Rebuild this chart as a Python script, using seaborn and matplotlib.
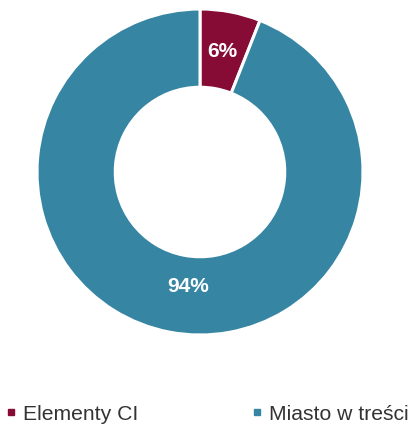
import matplotlib
matplotlib.use("Agg")
import matplotlib.pyplot as plt
from matplotlib.lines import Line2D
import seaborn as sns

categories = ["Elementy CI", "Miasto w treści"]
shares = [6, 94]
colors = ["#870C35", "#3585A3"]

sns.set_theme(style="white")
plt.rcParams["font.family"] = ["Liberation Sans", "DejaVu Sans"]

fig = plt.figure(figsize=(4.12, 4.24), dpi=100)
W, H = 412, 424
cx, cy, r = 200, 172, 163
ax = fig.add_axes([(cx - r) / W, 1 - (cy + r) / H, 2 * r / W, 2 * r / H])

wedges, texts, autotexts = ax.pie(
    shares,
    colors=colors,
    startangle=90,
    counterclock=False,
    radius=1,
    wedgeprops=dict(width=0.48, edgecolor="white", linewidth=2.2),
    autopct=lambda p: f"{p:.0f}%",
    pctdistance=0.74,
    textprops=dict(color="white", fontsize=15, fontweight="bold"),
)
# the large segment's label sits a little right of its mid-angle
autotexts[0].set_position((0.135, 0.74))
autotexts[1].set_position((-0.074, -0.70))

ax.set_xlim(-1, 1)
ax.set_ylim(-1, 1)
ax.set_aspect("equal")
ax.axis("off")

handles = [
    Line2D([], [], marker="s", linestyle="none", markersize=4.5,
           markerfacecolor=c, markeredgecolor=c)
    for c in colors
]
fig.legend(
    handles, categories,
    loc="center left",
    bbox_to_anchor=(5 / W, 1 - 414 / H),
    ncol=2,
    frameon=False,
    fontsize=15.2,
    handlelength=0.6,
    handletextpad=0.25,
    columnspacing=5.35,
    borderaxespad=0,
    borderpad=0,
    labelcolor="#333333",
)

fig.savefig("out.png", dpi=100)
